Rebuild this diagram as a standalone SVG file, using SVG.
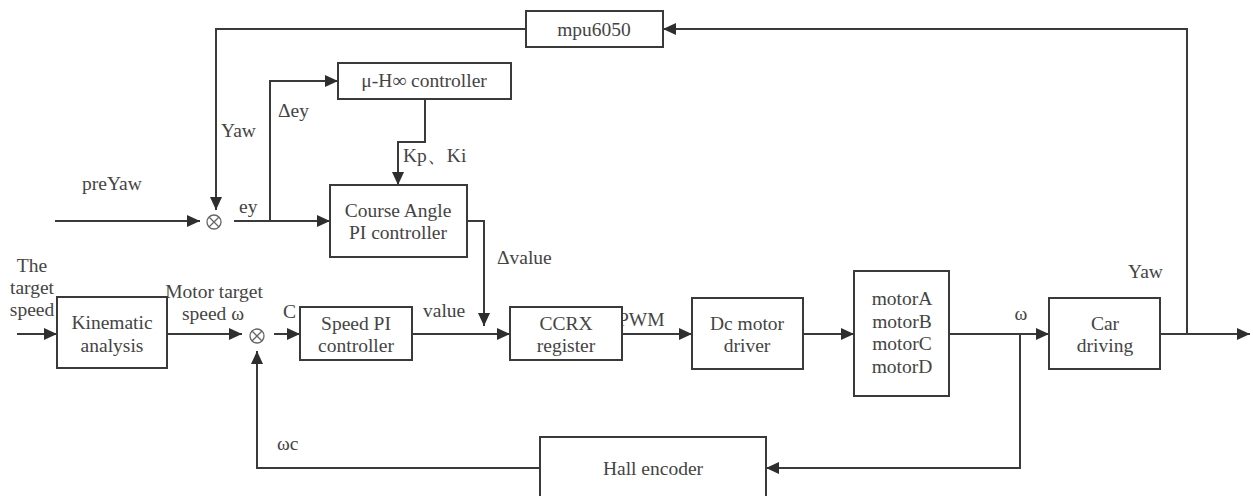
<svg xmlns="http://www.w3.org/2000/svg" width="1253" height="496" viewBox="0 0 1253 496">
<style>
.box{fill:#fff;stroke:#3a3a3a;stroke-width:2}
.ln{fill:none;stroke:#3a3a3a;stroke-width:2}
.arr{marker-end:url(#ah)}
text{font-family:'Liberation Serif','Times New Roman',Tinos,'DejaVu Serif',serif;font-size:19.5px;fill:#444}
.c{text-anchor:middle}
.sum{fill:none;stroke:#666;stroke-width:1.3}
</style>
<defs>
<marker id="ah" markerUnits="userSpaceOnUse" markerWidth="14" markerHeight="12" refX="13" refY="6" orient="auto">
<path d="M0,0 L13,6 L0,12 Z" fill="#2e2e2e"/>
</marker>
</defs>
<rect width="1253" height="496" fill="#fff"/>
<g id="connectors">
<path class="ln arr" d="M1187,334 V29 H663"/>
<path class="ln arr" d="M526,29 H216 V210"/>
<path class="ln arr" d="M55,221 H200"/>
<path class="ln arr" d="M234,221 H330"/>
<path class="ln arr" d="M270,221 V81 H338"/>
<path class="ln arr" d="M425,99 V142 H398 V185"/>
<path class="ln arr" d="M467,221 H484 V326"/>
<path class="ln arr" d="M17,334 H57"/>
<path class="ln arr" d="M167,334 H242"/>
<path class="ln arr" d="M274,334 H300"/>
<path class="ln arr" d="M540,468 H257 V351"/>
<path class="ln arr" d="M412,334 H510"/>
<path class="ln arr" d="M622,334 H692"/>
<path class="ln arr" d="M803,334 H854"/>
<path class="ln arr" d="M949,334 H1049"/>
<path class="ln arr" d="M1020,334 V468 H766"/>
<path class="ln arr" d="M1160,334 H1250"/>
<text x="82" y="190">preYaw</text>
<text x="221" y="137">Yaw</text>
<text x="278" y="117">Δey</text>
<text x="239" y="213">ey</text>
<text x="403" y="162">Kp、Ki</text>
<text x="497" y="264">Δvalue</text>
<text x="32" y="272" class="c">The</text>
<text x="32" y="294" class="c">target</text>
<text x="32" y="316" class="c">speed</text>
<text x="214" y="298" class="c">Motor target</text>
<text x="213" y="320" class="c">speed ω</text>
<text x="283" y="318">C</text>
<text x="277" y="450">ωc</text>
<text x="423" y="317">value</text>
<text x="618" y="326">PWM</text>
<text x="1021" y="320" class="c">ω</text>
<text x="1128" y="278">Yaw</text>
</g>
<g id="mpu6050"><rect class="box" x="526" y="11" width="137" height="36"/><text x="594" y="36" class="c">mpu6050</text></g>
<g id="hinf"><rect class="box" x="338" y="63" width="173" height="36"/><text x="424" y="87" class="c">μ-H∞  controller</text></g>
<g id="course"><rect class="box" x="330" y="185" width="137" height="72"/><text x="398" y="217" class="c">Course Angle</text><text x="398" y="239" class="c">PI controller</text></g>
<g id="sum1"><circle class="sum" cx="214" cy="222" r="7"/><path class="sum" d="M209,217 L219,227 M219,217 L209,227"/></g>
<g id="sum2"><circle class="sum" cx="257" cy="336" r="7"/><path class="sum" d="M252,331 L262,341 M262,331 L252,341"/></g>
<g id="kinematic"><rect class="box" x="57" y="297" width="110" height="71"/><text x="112" y="329" class="c">Kinematic</text><text x="112" y="352" class="c">analysis</text></g>
<g id="speedpi"><rect class="box" x="300" y="307" width="112" height="53"/><text x="356" y="330" class="c">Speed PI</text><text x="356" y="352" class="c">controller</text></g>
<g id="ccrx"><rect class="box" x="510" y="307" width="112" height="53"/><text x="566" y="330" class="c">CCRX</text><text x="566" y="352" class="c">register</text></g>
<g id="dcdriver"><rect class="box" x="692" y="298" width="111" height="71"/><text x="747" y="330" class="c">Dc motor</text><text x="747" y="352" class="c">driver</text></g>
<g id="motors"><rect class="box" x="854" y="271" width="95" height="125"/><text x="902" y="305" class="c">motorA</text><text x="902" y="328" class="c">motorB</text><text x="902" y="350" class="c">motorC</text><text x="902" y="373" class="c">motorD</text></g>
<g id="car"><rect class="box" x="1049" y="298" width="111" height="71"/><text x="1105" y="330" class="c">Car</text><text x="1105" y="352" class="c">driving</text></g>
<g id="hall"><rect class="box" x="540" y="437" width="226" height="70"/><text x="653" y="475" class="c">Hall encoder</text></g>
</svg>
